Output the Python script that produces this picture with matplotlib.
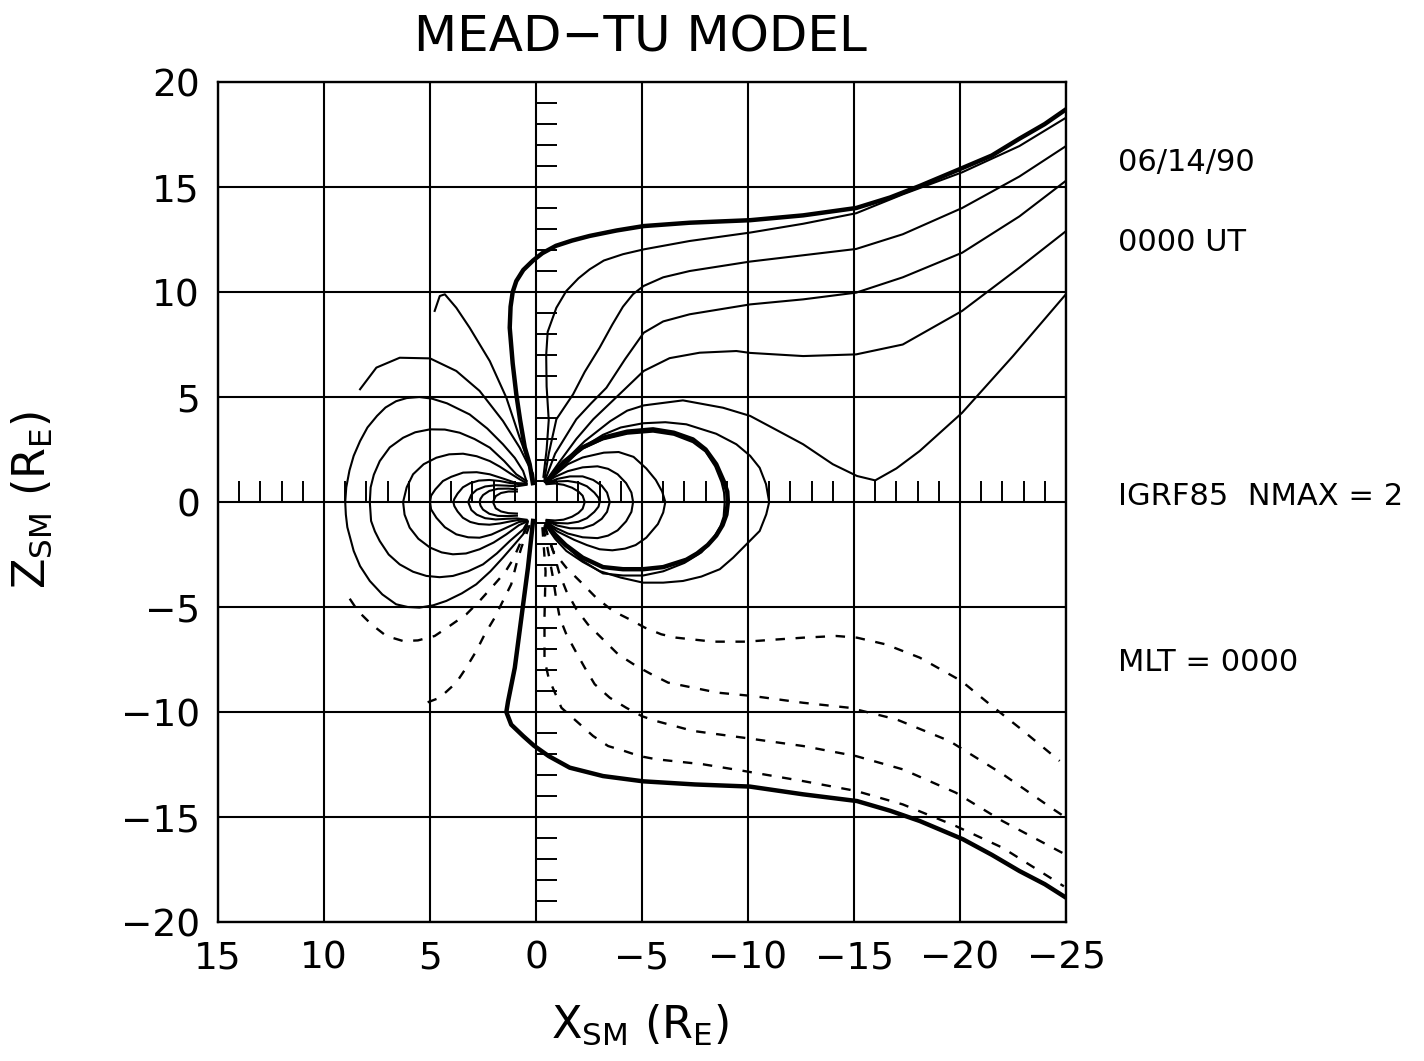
import numpy as np
import matplotlib.pyplot as plt

plt.rcParams['font.family'] = 'DejaVu Sans'
plt.rcParams['mathtext.default'] = 'regular'

# field lines as (X_SM, Z_SM) points

# thick boundary lines
sep_north = [(0.15, 0.9), (0.3, 1.8), (0.53, 2.6), (0.75, 3.9), (0.93, 5.13), (1.1, 6.6),
             (1.24, 8.3), (1.2, 9.3), (1.1, 10.0), (0.93, 10.52), (0.6, 11.05), (0.14, 11.5),
             (-0.3, 11.85), (-0.94, 12.2), (-1.7, 12.45), (-2.53, 12.67), (-3.8, 12.93),
             (-5.08, 13.14), (-7.25, 13.3), (-10.1, 13.42), (-12.6, 13.65), (-15.1, 14.0),
             (-16.7, 14.5), (-18.1, 15.05), (-20.1, 15.9), (-21.5, 16.5), (-22.8, 17.3),
             (-24.0, 18.0), (-25.0, 18.7)]
sep_south = [(0.14, -0.9), (0.38, -3.13), (0.69, -5.51), (1.0, -7.89), (1.32, -9.5), (1.4, -10.0),
             (1.17, -10.6), (0.61, -11.14), (0.1, -11.6), (-0.6, -12.1), (-1.59, -12.65),
             (-3.16, -13.05), (-5.05, -13.3), (-7.5, -13.45), (-10.08, -13.55), (-12.6, -13.92),
             (-15.14, -14.24), (-16.7, -14.7), (-18.1, -15.19), (-20.14, -16.06), (-21.5, -16.8),
             (-22.8, -17.57), (-24.0, -18.2), (-25.0, -18.84)]
loop_night_thick = [(-0.5, 0.95), (-0.9, 1.45), (-1.3, 1.9), (-2.2, 2.6), (-3.16, 3.06), (-4.3, 3.35),
                    (-5.52, 3.46), (-6.5, 3.3), (-7.4, 2.98), (-8.0, 2.5), (-8.5, 1.8), (-8.85, 1.0),
                    (-9.02, 0.5), (-9.05, 0.0), (-8.98, -0.6), (-8.8, -1.1), (-8.5, -1.6),
                    (-8.1, -2.05), (-7.6, -2.45), (-7.09, -2.75), (-6.0, -3.1), (-5.05, -3.2),
                    (-4.1, -3.2), (-3.16, -3.1), (-2.2, -2.65), (-1.4, -2.05), (-0.9, -1.55),
                    (-0.5, -1.05)]

# open northern lines into the tail
tail_n1 = [(-0.35, 1.2), (-0.5, 2.5), (-0.6, 3.9), (-0.5, 5.5), (-0.48, 7.0), (-0.55, 8.1),
           (-0.96, 9.25), (-1.43, 10.05), (-2.0, 10.65), (-2.53, 11.08), (-3.2, 11.5), (-4.1, 11.8),
           (-5.08, 12.03), (-7.25, 12.43), (-10.1, 12.83), (-12.6, 13.25), (-15.1, 13.75),
           (-17.3, 14.65), (-20.1, 15.7), (-22.8, 16.95), (-25.0, 18.3)]
tail_n2 = [(-0.4, 1.1), (-0.6, 2.3), (-0.96, 3.94), (-1.75, 5.13), (-2.3, 6.2), (-3.0, 7.35),
           (-3.6, 8.45), (-4.1, 9.3), (-4.58, 9.9), (-5.08, 10.29), (-6.0, 10.7), (-7.25, 11.0),
           (-10.1, 11.45), (-12.6, 11.75), (-15.1, 12.05), (-17.3, 12.75), (-20.1, 14.0),
           (-22.8, 15.5), (-25.0, 16.95)]
tail_n3 = [(-0.45, 1.1), (-0.9, 2.3), (-1.9, 3.94), (-2.6, 4.7), (-3.32, 5.44), (-4.2, 6.8),
           (-5.08, 8.06), (-6.0, 8.6), (-7.25, 8.94), (-10.1, 9.41), (-12.6, 9.65), (-15.1, 9.97),
           (-17.3, 10.7), (-20.1, 11.87), (-22.8, 13.6), (-25.0, 15.3)]
tail_n4 = [(-0.5, 1.05), (-1.1, 1.9), (-1.9, 3.0), (-2.7, 3.94), (-3.8, 5.0), (-5.08, 6.24),
           (-6.3, 6.85), (-7.72, 7.11), (-9.45, 7.19), (-10.1, 7.1), (-12.6, 6.95), (-15.1, 7.03),
           (-17.3, 7.5), (-20.1, 9.1), (-22.8, 11.16), (-25.0, 12.9)]
tail_n5 = [(-0.55, 0.95), (-1.2, 1.8), (-2.3, 2.9), (-3.5, 3.85), (-4.3, 4.35), (-5.08, 4.6),
           (-6.93, 4.84), (-8.82, 4.49), (-10.1, 4.1), (-11.4, 3.4), (-12.6, 2.75), (-14.0, 1.8),
           (-15.14, 1.24), (-16.0, 1.03), (-17.0, 1.6), (-18.1, 2.43), (-20.1, 4.25), (-22.5, 6.95),
           (-25.0, 9.9)]

# open northern lines on the dayside (cut off)
day_n1 = [(0.14, 1.0), (0.14, 1.32), (0.77, 2.59), (1.56, 3.86), (2.66, 5.29), (3.76, 6.24),
          (5.0, 6.84), (6.43, 6.87), (7.53, 6.4), (8.3, 5.37)]
day_n2 = [(0.1, 1.0), (0.14, 1.32), (0.77, 3.06), (1.4, 4.97), (2.18, 6.71), (3.13, 8.3),
          (3.76, 9.25), (4.3, 9.89), (4.54, 9.81), (4.78, 9.1)]

# closed lines, dayside
loop_d90 = [(0.45, 1.0), (0.61, 1.48), (1.0, 2.1), (1.56, 2.75), (2.3, 3.5), (3.13, 4.17), (4.2, 4.7),
            (4.9, 4.92), (5.5, 5.0), (6.1, 4.95), (6.6, 4.8), (7.1, 4.5), (7.5, 4.1), (7.95, 3.55),
            (8.3, 2.9), (8.6, 2.2), (8.8, 1.5), (8.95, 0.7), (9.0, 0.0), (8.97, -0.6), (8.9, -1.2),
            (8.6, -2.33), (8.3, -3.05), (7.84, -3.76), (7.25, -4.4), (6.6, -4.87), (6.05, -5.0),
            (5.5, -5.03), (4.85, -4.92), (4.23, -4.71), (3.5, -4.35), (2.82, -3.92), (2.15, -3.3),
            (1.56, -2.65), (1.0, -2.0), (0.61, -1.54), (0.4, -1.0)]
loop_d78 = [(0.45, 1.0), (0.93, 1.32), (1.5, 1.95), (2.18, 2.59), (2.9, 3.0), (3.6, 3.3), (4.3, 3.45),
            (5.0, 3.46), (5.7, 3.32), (6.27, 3.06), (6.9, 2.6), (7.37, 1.95), (7.65, 1.3), (7.8, 0.7),
            (7.84, 0.0), (7.78, -0.9), (7.6, -1.4), (7.37, -1.86), (6.95, -2.5), (6.43, -2.97),
            (5.8, -3.32), (5.17, -3.52), (4.55, -3.58), (3.92, -3.52), (3.2, -3.3), (2.5, -2.97),
            (1.85, -2.45), (1.24, -1.86), (0.6, -1.3), (0.4, -0.95)]
loop_d63 = [(0.45, 0.9), (0.8, 1.1), (1.2, 1.35), (1.7, 1.68), (2.18, 1.95), (2.8, 2.18), (3.44, 2.3),
            (4.1, 2.27), (4.7, 2.11), (5.3, 1.8), (5.8, 1.32), (6.1, 0.7), (6.27, 0.0), (6.2, -0.6),
            (5.96, -1.22), (5.55, -1.75), (5.0, -2.17), (4.45, -2.4), (3.92, -2.49), (3.3, -2.45),
            (2.66, -2.25), (2.0, -1.93), (1.4, -1.54), (0.8, -1.1), (0.4, -0.92)]
loop_d50 = [(0.45, 0.88), (0.93, 0.9), (1.5, 1.1), (2.18, 1.32), (2.8, 1.42), (3.44, 1.4), (4.0, 1.2),
            (4.39, 1.0), (4.75, 0.6), (4.95, 0.3), (5.0, 0.0), (4.95, -0.35), (4.7, -0.75),
            (4.3, -1.2), (3.76, -1.54), (3.2, -1.68), (2.66, -1.7), (2.1, -1.55), (1.56, -1.3),
            (0.8, -0.95), (0.4, -0.9)]
loop_d39 = [(0.45, 0.85), (0.8, 0.85), (1.2, 0.9), (1.7, 1.0), (2.2, 1.05), (2.7, 1.02), (3.1, 0.9),
            (3.45, 0.7), (3.7, 0.4), (3.85, 0.15), (3.9, 0.0), (3.85, -0.2), (3.7, -0.45),
            (3.45, -0.75), (3.1, -0.95), (2.7, -1.05), (2.2, -1.08), (1.7, -1.02), (1.2, -0.92),
            (0.8, -0.85), (0.45, -0.85)]
loop_d32 = [(0.45, 0.82), (0.9, 0.75), (1.4, 0.78), (1.9, 0.8), (2.4, 0.74), (2.8, 0.58), (3.05, 0.35),
            (3.2, 0.0), (3.05, -0.38), (2.8, -0.6), (2.4, -0.77), (1.9, -0.83), (1.4, -0.8),
            (0.9, -0.78), (0.45, -0.85)]
loop_d27 = [(0.9, 0.6), (1.3, 0.64), (1.8, 0.63), (2.2, 0.53), (2.5, 0.33), (2.62, 0.15), (2.66, 0.0),
            (2.62, -0.17), (2.5, -0.36), (2.2, -0.56), (1.8, -0.66), (1.3, -0.67), (0.9, -0.65)]
loop_d20 = [(0.9, 0.5), (1.3, 0.5), (1.65, 0.43), (1.9, 0.28), (2.03, 0.0), (1.9, -0.3), (1.65, -0.45),
            (1.3, -0.53), (0.9, -0.55)]

# closed lines, nightside
loop_n110 = [(-0.55, 0.95), (-0.9, 1.35), (-1.3, 1.7), (-2.2, 2.6), (-3.16, 3.2), (-4.0, 3.55),
             (-5.05, 3.75), (-6.1, 3.8), (-7.09, 3.7), (-8.5, 3.25), (-9.45, 2.75), (-10.1, 2.2),
             (-10.55, 1.63), (-10.85, 0.85), (-11.0, 0.0), (-10.86, -0.59), (-10.55, -1.38),
             (-9.92, -2.02), (-9.3, -2.65), (-8.67, -3.2), (-7.8, -3.55), (-6.93, -3.76),
             (-6.0, -3.84), (-5.05, -3.84), (-4.0, -3.6), (-3.0, -3.29), (-2.2, -2.85),
             (-1.43, -2.33), (-0.9, -1.75), (-0.45, -1.1)]
loop_n89 = [(-0.5, 0.95), (-0.9, 1.4), (-1.3, 1.85), (-2.2, 2.55), (-3.16, 2.98), (-4.3, 3.25),
            (-5.52, 3.35), (-6.5, 3.2), (-7.4, 2.85), (-8.0, 2.4), (-8.45, 1.7), (-8.75, 0.95),
            (-8.87, 0.45), (-8.9, 0.0), (-8.85, -0.7), (-8.7, -1.15), (-8.5, -1.5), (-8.2, -1.95),
            (-7.8, -2.4), (-7.0, -2.9), (-6.0, -3.3), (-5.05, -3.5), (-4.1, -3.5), (-3.16, -3.4),
            (-2.2, -2.8), (-1.4, -2.1), (-0.9, -1.6), (-0.5, -1.05)]
loop_n61 = [(-0.5, 0.95), (-0.9, 1.3), (-1.5, 1.8), (-2.2, 2.12), (-3.2, 2.35), (-3.9, 2.38),
            (-4.6, 2.15), (-5.2, 1.6), (-5.65, 1.05), (-5.95, 0.5), (-6.1, 0.0), (-6.0, -0.5),
            (-5.75, -1.05), (-5.2, -1.7), (-4.7, -2.05), (-4.2, -2.22), (-3.6, -2.3), (-3.0, -2.25),
            (-2.4, -2.05), (-1.8, -1.8), (-1.0, -1.4), (-0.5, -1.0)]
loop_n46 = [(-0.5, 0.95), (-0.9, 1.2), (-1.5, 1.47), (-2.2, 1.65), (-2.9, 1.7), (-3.4, 1.58),
            (-3.85, 1.32), (-4.25, 0.9), (-4.5, 0.45), (-4.58, 0.0), (-4.5, -0.47), (-4.25, -0.92),
            (-3.85, -1.35), (-3.4, -1.6), (-2.9, -1.72), (-2.2, -1.68), (-1.5, -1.5), (-0.9, -1.22),
            (-0.5, -0.95)]
loop_n35 = [(-0.5, 0.9), (-1.0, 1.1), (-1.6, 1.22), (-2.2, 1.22), (-2.7, 1.05), (-3.1, 0.78),
            (-3.35, 0.45), (-3.48, 0.0), (-3.35, -0.47), (-3.1, -0.8), (-2.7, -1.08), (-2.2, -1.25),
            (-1.6, -1.25), (-1.0, -1.12), (-0.5, -0.9)]
loop_n30 = [(-0.5, 0.88), (-1.0, 0.98), (-1.5, 1.0), (-2.0, 0.92), (-2.4, 0.75), (-2.75, 0.45),
            (-2.95, 0.2), (-3.0, 0.0), (-2.95, -0.22), (-2.75, -0.47), (-2.4, -0.77), (-2.0, -0.94),
            (-1.5, -1.02), (-1.0, -1.0), (-0.5, -0.88)]
loop_n23 = [(-0.5, 0.85), (-0.9, 0.88), (-1.3, 0.82), (-1.7, 0.68), (-2.0, 0.5), (-2.2, 0.3),
            (-2.3, 0.0), (-2.2, -0.32), (-2.0, -0.52), (-1.7, -0.7), (-1.3, -0.84), (-0.9, -0.88),
            (-0.5, -0.85)]

# open southern lines (dashed)
day_s1 = [(0.4, -1.1), (0.77, -2.02), (1.08, -2.73), (1.48, -3.37), (2.03, -4.0), (2.66, -4.71),
          (3.29, -5.35), (4.07, -5.9), (4.78, -6.38), (5.57, -6.59), (6.27, -6.62), (7.06, -6.38),
          (7.77, -5.82), (8.4, -5.19), (8.87, -4.48)]
day_s2 = [(0.3, -1.1), (0.69, -2.17), (0.93, -2.97), (1.17, -3.92), (1.56, -4.71), (1.95, -5.51),
          (2.42, -6.3), (2.82, -7.1), (3.29, -7.89), (3.76, -8.6), (4.54, -9.32), (5.17, -9.56)]
tail_s1 = [(-0.4, -1.1), (-0.8, -2.33), (-1.43, -3.13), (-2.14, -3.84), (-2.84, -4.56), (-3.63, -5.19),
           (-4.42, -5.59), (-5.13, -5.98), (-5.91, -6.3), (-6.62, -6.46), (-8.35, -6.65),
           (-9.92, -6.65), (-11.3, -6.55), (-12.6, -6.46), (-14.17, -6.38), (-15.14, -6.46),
           (-16.5, -6.78), (-18.1, -7.41), (-20.06, -8.52), (-21.4, -9.63), (-22.8, -10.75),
           (-24.7, -12.33)]
tail_s2 = [(-0.4, -1.15), (-0.8, -2.3), (-1.1, -3.4), (-1.43, -4.24), (-1.9, -5.1), (-2.45, -5.83),
           (-3.16, -6.54), (-3.87, -7.25), (-4.73, -7.81), (-5.44, -8.2), (-6.23, -8.6), (-7.01, -8.76),
           (-8.58, -9.08), (-10.24, -9.24), (-12.6, -9.56), (-14.8, -9.8), (-17.0, -10.35),
           (-19.5, -11.38), (-22.03, -12.97), (-24.4, -14.63), (-25.0, -15.03)]
tail_s3 = [(-0.35, -1.2), (-0.6, -2.5), (-0.8, -3.6), (-0.95, -4.6), (-1.12, -5.51), (-1.43, -6.3),
           (-1.9, -7.17), (-2.3, -7.89), (-2.77, -8.68), (-3.48, -9.32), (-4.26, -9.8), (-5.0, -10.2),
           (-5.67, -10.43), (-7.4, -10.9), (-9.76, -11.22), (-12.6, -11.62), (-15.1, -12.1),
           (-17.3, -12.73), (-19.8, -13.84), (-22.0, -15.19), (-25.0, -16.8)]
tail_s4 = [(-0.3, -1.2), (-0.45, -3.3), (-0.4, -5.5), (-0.4, -7.5), (-0.6, -8.4), (-1.2, -9.8),
           (-1.9, -10.43), (-2.69, -11.14), (-3.4, -11.62), (-4.18, -11.86), (-4.89, -12.1),
           (-5.67, -12.25), (-7.88, -12.49), (-9.76, -12.8), (-12.6, -13.29), (-15.1, -13.76),
           (-17.3, -14.4), (-19.8, -15.43), (-22.0, -16.46), (-24.9, -18.3)]

thick_lines = [sep_north, sep_south, loop_night_thick]
thin_lines = [tail_n1, tail_n2, tail_n3, tail_n4, tail_n5, day_n1, day_n2,
              loop_d90, loop_d78, loop_d63, loop_d50, loop_d39, loop_d32, loop_d27, loop_d20,
              loop_n110, loop_n89, loop_n61, loop_n46, loop_n35, loop_n30, loop_n23]
dashed_lines = [day_s1, day_s2, tail_s1, tail_s2, tail_s3, tail_s4]

# small minor ticks drawn along the two centre axes
x_minor = [i for i in range(-24, 15) if i % 5 != 0]
z_minor = [i for i in range(-19, 20) if i % 5 != 0]

major = list(range(15, -26, -5))
zmajor = list(range(-20, 21, 5))

fig = plt.figure(figsize=(14.24, 10.61), dpi=100)
ax = fig.add_axes([0.1531, 0.131, 0.5955, 0.7917])
ax.set_xlim(15, -25)
ax.set_ylim(-20, 20)
ax.set_xticks(major)
ax.set_yticks(zmajor)
ax.tick_params(length=0, labelsize=27, pad=13)
ax.grid(True, color='black', lw=1.5)
ax.set_axisbelow(True)
for s in ax.spines.values():
    s.set_linewidth(1.7)

ax.vlines(x_minor, 0, 1.0, color='black', lw=1.4)
ax.hlines(z_minor, 0, -1.0, color='black', lw=1.4)

for line in thin_lines:
    p = np.array(line)
    ax.plot(p[:, 0], p[:, 1], color='black', lw=1.5)
for line in thick_lines:
    p = np.array(line)
    ax.plot(p[:, 0], p[:, 1], color='black', lw=3.2)
for line in dashed_lines:
    p = np.array(line)
    ax.plot(p[:, 0], p[:, 1], color='black', lw=1.7, dashes=(4, 4.5))

fig.text(0.4494, 0.965, 'MEAD\u2212TU MODEL', fontsize=36, ha='center', va='center')
fig.text(0.4494, 0.034, r'$X_{SM}\ (R_E)$', fontsize=32, ha='center', va='center')
fig.text(0.022, 0.529, r'$Z_{SM}\ (R_E)$', fontsize=32, ha='center', va='center', rotation=90)

fig.text(0.785, 0.847, '06/14/90', fontsize=22, va='center')
fig.text(0.785, 0.771, '0000 UT', fontsize=22, va='center')
fig.text(0.785, 0.532, 'IGRF85  NMAX = 2', fontsize=22, va='center')
fig.text(0.785, 0.376, 'MLT = 0000', fontsize=22, va='center')

fig.savefig('out.png', dpi=100)
